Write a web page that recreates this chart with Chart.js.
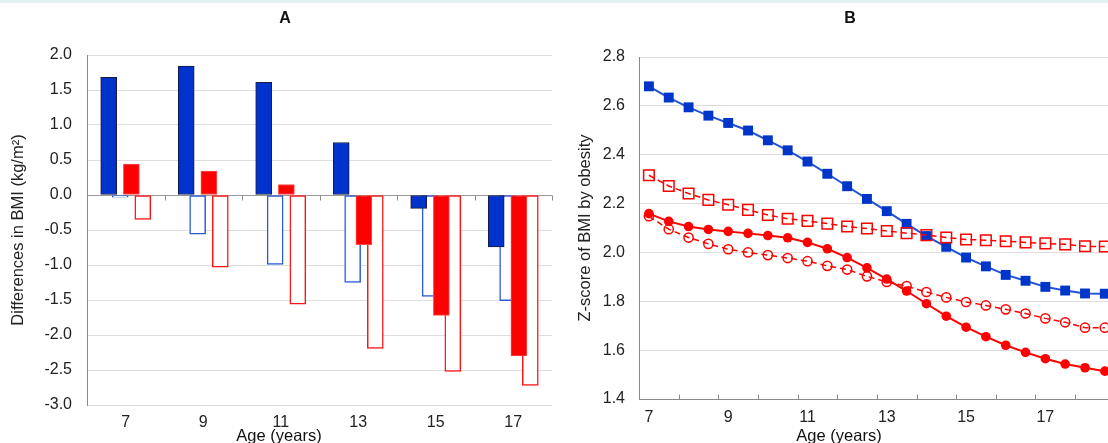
<!DOCTYPE html>
<html>
<head>
<meta charset="utf-8">
<script src="https://cdn.jsdelivr.net/npm/chart.js@4.4.1/dist/chart.umd.min.js"></script>
<style>
    body { margin: 0; background: #ffffff; }
    #page { position: relative; width: 1108px; height: 443px; overflow: hidden; }
    #topBand { position: absolute; left: 0; top: 0; width: 1108px; height: 3px; background: #e4f1f4; }
    #chartA { position: absolute; left: 0; top: 0; }
    #chartB { position: absolute; left: 560px; top: 0; }
</style>
</head>
<body>
<div id="page">
    <div id="topBand"></div>
    <canvas id="chartA" width="560" height="443"></canvas>
    <canvas id="chartB" width="548" height="443"></canvas>
</div>
<script>
// Panel A - differences in BMI by age group
const ageGroups = [7, 9, 11, 13, 15, 17];
const barBlueFilled = [1.68, 1.84, 1.61, 0.75, -0.19, -0.74];
const barBlueOpen = [-0.03, -0.56, -0.99, -1.25, -1.45, -1.51];
const barRedFilled = [0.44, 0.34, 0.15, -0.71, -1.72, -2.30];
const barRedOpen = [-0.35, -1.03, -1.56, -2.19, -2.52, -2.72];
const barYTicks = [-3, -2.5, -2, -1.5, -1, -0.5, 0, 0.5, 1, 1.5, 2];

// Panel B - z-score of BMI by obesity
const lineAges = [7, 7.5, 8, 8.5, 9, 9.5, 10, 10.5, 11, 11.5, 12, 12.5,
    13, 13.5, 14, 14.5, 15, 15.5, 16, 16.5, 17, 17.5, 18, 18.5];
const lineBlueFilled = [2.680, 2.634, 2.594, 2.560, 2.530, 2.499, 2.459, 2.418, 2.372, 2.322, 2.271, 2.219,
    2.169, 2.117, 2.067, 2.023, 1.979, 1.943, 1.908, 1.884, 1.859, 1.844, 1.832, 1.831];
const lineRedOpenSquare = [2.316, 2.272, 2.241, 2.215, 2.195, 2.174, 2.153, 2.138, 2.129, 2.118, 2.106, 2.098,
    2.088, 2.079, 2.071, 2.061, 2.053, 2.050, 2.046, 2.041, 2.037, 2.033, 2.025, 2.024];
const lineRedFilled = [2.159, 2.127, 2.106, 2.094, 2.086, 2.078, 2.069, 2.060, 2.041, 2.015, 1.979, 1.937,
    1.891, 1.842, 1.790, 1.739, 1.694, 1.655, 1.620, 1.591, 1.565, 1.543, 1.528, 1.514];
const lineRedOpenCircle = [2.148, 2.095, 2.061, 2.035, 2.013, 2.000, 1.989, 1.977, 1.964, 1.945, 1.930, 1.902,
    1.879, 1.862, 1.838, 1.816, 1.797, 1.783, 1.767, 1.750, 1.730, 1.714, 1.692, 1.692];
const lineXTicks = [7, 9, 11, 13, 15, 17];
const lineYTicks = [1.4, 1.6, 1.8, 2.0, 2.2, 2.4, 2.6, 2.8];

const axisGrey = '#8a8a8a';
const gridGrey = '#dedede';
const fontFamily = '"Liberation Sans", Arial, sans-serif';

Chart.defaults.font.family = fontFamily;
Chart.defaults.font.size = 16;
Chart.defaults.color = '#222222';

// small tick marks on the category axis
const tickMarks = {
    id: 'tickMarks',
    afterDatasetsDraw(chart, args, opts) {
        const { ctx, scales: { x, y } } = chart;
        const base = Math.round(y.getPixelForValue(opts.base)) + 0.5;
        ctx.save();
        ctx.strokeStyle = axisGrey;
        ctx.lineWidth = 1;
        opts.at.forEach(v => {
            const px = Math.round(x.getPixelForValue(v)) + 0.5;
            ctx.beginPath();
            ctx.moveTo(px, base);
            ctx.lineTo(px, base + opts.length);
            ctx.stroke();
        });
        ctx.restore();
    }
};

// panel letter and x-axis title, centred on the whole panel
const panelText = {
    id: 'panelText',
    afterDraw(chart, args, opts) {
        const ctx = chart.ctx;
        ctx.save();
        ctx.fillStyle = '#111111';
        ctx.textAlign = 'center';
        ctx.textBaseline = 'middle';
        opts.items.forEach(item => {
            ctx.font = (item.bold ? 'bold ' : '') + item.size + 'px ' + fontFamily;
            ctx.fillText(item.text, item.x, item.y);
        });
        ctx.restore();
    }
};

function barSet(values, offset, style) {
    return Object.assign({
        data: ageGroups.map((age, i) => ({ x: age + offset, y: values[i] })),
        grouped: false,
        barThickness: 16,
        borderSkipped: false
    }, style);
}

new Chart(document.getElementById('chartA'), {
    type: 'bar',
    data: {
        datasets: [
            barSet(barBlueFilled, -0.44, { backgroundColor: '#0033cc', borderColor: '#1a1a40', borderWidth: 1, order: 0 }),
            barSet(barBlueOpen, -0.145, { backgroundColor: '#ffffff', borderColor: '#2a5bd7', borderWidth: 1.5, order: 1 }),
            barSet(barRedFilled, 0.145, { backgroundColor: '#ff0000', borderColor: '#ff4d4d', borderWidth: 1, order: 0 }),
            barSet(barRedOpen, 0.44, { backgroundColor: '#ffffff', borderColor: '#ff1414', borderWidth: 1.5, order: 1 })
        ]
    },
    options: {
        responsive: false,
        animation: false,
        layout: { autoPadding: false, padding: { top: 55, right: 8, bottom: 0, left: 0 } },
        plugins: {
            legend: { display: false },
            tooltip: { enabled: false },
            tickMarks: { base: 0, length: 5, at: ageGroups.map(a => a + 1) },
            panelText: {
                items: [
                    { text: 'A', x: 285, y: 19, size: 16, bold: true },
                    { text: 'Age (years)', x: 279, y: 436, size: 16.5 }
                ]
            }
        },
        scales: {
            x: {
                type: 'linear',
                min: 6,
                max: 18,
                offset: false,
                grid: { display: false, offset: false },
                border: { display: false },
                afterBuildTicks: scale => { scale.ticks = ageGroups.map(v => ({ value: v })); },
                ticks: { padding: 0, autoSkip: false, maxRotation: 0, callback: v => String(v) },
                afterFit: scale => { scale.height = 38; }
            },
            y: {
                min: -3,
                max: 2,
                afterBuildTicks: scale => { scale.ticks = barYTicks.map(v => ({ value: v })); },
                ticks: { padding: 15, callback: v => v.toFixed(1) },
                grid: {
                    drawTicks: false,
                    color: ctx => (ctx.tick && ctx.tick.value === 0) ? '#9a9a9a' : gridGrey
                },
                border: { display: true, color: axisGrey },
                title: { display: true, text: 'Differences in BMI (kg/m²)', font: { size: 16.5 }, padding: { top: 9, bottom: 0 } },
                afterFit: scale => { scale.width = 87; }
            }
        }
    },
    plugins: [tickMarks, panelText]
});

function lineSet(values, style) {
    return Object.assign({
        data: lineAges.map((age, i) => ({ x: age, y: values[i] })),
        tension: 0,
        fill: false
    }, style);
}

new Chart(document.getElementById('chartB'), {
    type: 'line',
    data: {
        datasets: [
            lineSet(lineRedOpenSquare, {
                borderColor: '#ff0000', borderWidth: 1.5, borderDash: [6, 4],
                pointStyle: 'rect', pointRadius: 7.5, pointBorderWidth: 1.5,
                pointBorderColor: '#ff0000', pointBackgroundColor: 'rgba(255,255,255,0)'
            }),
            lineSet(lineBlueFilled, {
                borderColor: '#2152d4', borderWidth: 2,
                pointStyle: 'rect', pointRadius: 7, pointBorderWidth: 0,
                pointBackgroundColor: '#0035c9'
            }),
            lineSet(lineRedFilled, {
                borderColor: '#ff0000', borderWidth: 2,
                pointStyle: 'circle', pointRadius: 4.8, pointBorderWidth: 0,
                pointBackgroundColor: '#ff0000'
            }),
            lineSet(lineRedOpenCircle, {
                borderColor: '#ff0000', borderWidth: 1.5, borderDash: [6, 4],
                pointStyle: 'circle', pointRadius: 4.6, pointBorderWidth: 1.5,
                pointBorderColor: '#ff0000', pointBackgroundColor: 'rgba(255,255,255,0)'
            })
        ]
    },
    options: {
        responsive: false,
        animation: false,
        layout: { autoPadding: false, padding: { top: 57, right: 0, bottom: 0, left: 0 } },
        plugins: {
            legend: { display: false },
            tooltip: { enabled: false },
            tickMarks: {
                base: 1.4,
                length: -5,
                at: lineAges.filter(a => Number.isInteger(a) && a < 18).map(a => a + 0.75)
            },
            panelText: {
                items: [
                    { text: 'B', x: 290, y: 19, size: 16, bold: true },
                    { text: 'Age (years)', x: 279, y: 436, size: 16.5 }
                ]
            }
        },
        scales: {
            x: {
                type: 'linear',
                min: 6.75,
                max: 18.58,
                grid: { display: false },
                border: { display: true, color: axisGrey },
                afterBuildTicks: scale => { scale.ticks = lineXTicks.map(v => ({ value: v })); },
                ticks: { padding: 1, autoSkip: false, maxRotation: 0, callback: v => String(v) },
                afterFit: scale => { scale.height = 44; }
            },
            y: {
                min: 1.4,
                max: 2.8,
                afterBuildTicks: scale => { scale.ticks = lineYTicks.map(v => ({ value: v })); },
                ticks: { padding: 14, callback: v => v.toFixed(1) },
                grid: { drawTicks: false, color: gridGrey },
                border: { display: true, color: axisGrey },
                title: { display: true, text: 'Z-score of BMI by obesity', font: { size: 16.5 }, padding: { top: 16, bottom: 0 } },
                afterFit: scale => { scale.width = 79; }
            }
        }
    },
    plugins: [tickMarks, panelText]
});
</script>
</body>
</html>
